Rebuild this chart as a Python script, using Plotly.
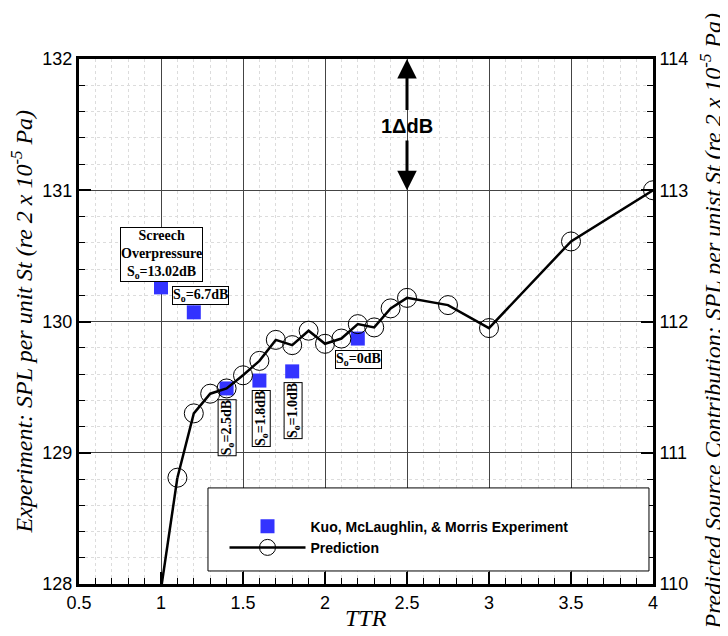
import plotly.graph_objects as go

# ---------------- data ----------------
exp_ttr = [1.0, 1.2, 1.4, 1.6, 1.8, 2.2]
exp_spl = [130.26, 130.07, 129.49, 129.55, 129.62, 129.87]

# prediction (right axis units)
pred_ttr = [1.0, 1.1, 1.2, 1.3, 1.4, 1.5, 1.6, 1.7, 1.8, 1.9, 2.0, 2.1, 2.2, 2.3, 2.4, 2.5, 2.75, 3.0, 3.5, 4.0]
pred_spl = [109.96, 110.81, 111.30, 111.45, 111.49, 111.59, 111.70, 111.86, 111.82, 111.93,
            111.83, 111.87, 111.98, 111.955, 112.10, 112.18, 112.125, 111.95, 112.61, 113.0]

label_texts = ["Screech<br>Overpressure<br>S<sub>o</sub>=13.02dB", "S<sub>o</sub>=6.7dB",
               "S<sub>o</sub>=2.5dB", "S<sub>o</sub>=1.8dB", "S<sub>o</sub>=1.0dB", "S<sub>o</sub>=0dB"]
label_x = [1.0, 1.243, 1.405, 1.612, 1.807, 2.204]
label_y = [130.51, 130.20, 129.19, 129.26, 129.32, 129.71]
label_angle = [0, 0, -90, -90, -90, 0]

x_ticks = [0.5, 1, 1.5, 2, 2.5, 3, 3.5, 4]
y_left_ticks = [128, 129, 130, 131, 132]
y_right_ticks = [110, 111, 112, 113, 114]

x_title = "<i>TTR</i>"
y_left_title = "<i>Experiment: SPL per unit St (re 2 x 10<sup>-5</sup> Pa)</i>"
y_right_title = "<i>Predicted Source Contribution: SPL per unist St (re 2 x 10<sup>-5</sup> Pa)</i>"

SERIF = "Liberation Serif, Times New Roman, serif"
SANS = "Liberation Sans, Arial, sans-serif"

fig = go.Figure()

fig.add_trace(go.Scatter(
    x=exp_ttr, y=exp_spl, mode="markers", yaxis="y",
    marker=dict(symbol="square", size=14, color="#3333ff"),
    name="Kuo, McLaughlin, & Morris Experiment"))

# first segment (point at TTR=1.0 lies below the axis, no visible symbol)
fig.add_trace(go.Scatter(
    x=pred_ttr[0:2], y=pred_spl[0:2], mode="lines", yaxis="y2",
    line=dict(color="black", width=2.5), showlegend=False, hoverinfo="skip"))

fig.add_trace(go.Scatter(
    x=pred_ttr[1:], y=pred_spl[1:], mode="lines+markers", yaxis="y2",
    line=dict(color="black", width=2.5),
    marker=dict(symbol="circle-open", size=19, color="black", line=dict(width=1, color="black")),
    name="Prediction"))

annotations = []
for t, xx, yy, ang in zip(label_texts, label_x, label_y, label_angle):
    annotations.append(dict(
        x=xx, y=yy, xref="x", yref="y", text=t, showarrow=False, textangle=ang,
        font=dict(family=SERIF, size=14, color="black", weight="bold"),
        bgcolor="white", bordercolor="black", borderwidth=1, borderpad=0))

# 1 dB scale indicator
annotations.append(dict(x=2.5, y=131.49, xref="x", yref="y", text="<b>1ΔdB</b>", showarrow=False,
                        font=dict(family=SANS, size=20, color="black")))
annotations.append(dict(x=2.5, y=132.0, xref="x", yref="y", ax=2.5, ay=131.6, axref="x", ayref="y",
                        text="", showarrow=True, arrowhead=2, arrowsize=1.3, arrowwidth=3,
                        arrowcolor="black"))
annotations.append(dict(x=2.5, y=131.0, xref="x", yref="y", ax=2.5, ay=131.39, axref="x", ayref="y",
                        text="", showarrow=True, arrowhead=2, arrowsize=1.3, arrowwidth=3,
                        arrowcolor="black"))

# axis titles
annotations.append(dict(x=0.5, y=0, xref="paper", yref="paper", xanchor="center", yanchor="middle",
                        yshift=-34, text=x_title, showarrow=False,
                        font=dict(family=SERIF, size=24, color="black")))
annotations.append(dict(x=0, y=0.5, xref="paper", yref="paper", xanchor="center", yanchor="middle",
                        xshift=-58, textangle=-90, text=y_left_title, showarrow=False,
                        font=dict(family=SERIF, size=24, color="black")))
annotations.append(dict(x=1, y=0.5, xref="paper", yref="paper", xanchor="center", yanchor="middle",
                        xshift=57, textangle=-90, text=y_right_title, showarrow=False,
                        font=dict(family=SERIF, size=24, color="black")))

shapes = [dict(type="rect", xref="paper", yref="paper", x0=0.2247, x1=0.993, y0=0.0248, y1=0.183,
               line=dict(color="black", width=1), fillcolor="white", layer="above")]

axis_common = dict(showline=True, linecolor="black", linewidth=3, ticks="inside",
                   ticklen=12, tickwidth=2, tickcolor="black", zeroline=False, automargin=False,
                   tickfont=dict(family=SANS, size=18, color="black"))

# page body has an 8px default margin; margins compensate so the plot area sits at x 79-653, y 59-584
fig.update_layout(
    width=728, height=636,
    margin=dict(l=71, r=83, t=51, b=60),
    paper_bgcolor="white", plot_bgcolor="white",
    shapes=shapes, annotations=annotations,
    legend=dict(x=0.2535, y=0.1398, xanchor="left", yanchor="top", bgcolor="rgba(0,0,0,0)",
                borderwidth=0, itemwidth=76, tracegroupgap=0,
                font=dict(family=SANS, size=14, color="black", weight="bold")),
    xaxis=dict(range=[0.5, 4], tickvals=x_ticks, ticktext=[str(v) for v in x_ticks], mirror=True,
               showgrid=True, gridcolor="#444", gridwidth=1,
               minor=dict(ticks="inside", ticklen=6, tickwidth=1, tickcolor="black", dtick=0.1,
                          showgrid=True, gridcolor="#dcdcdc", griddash="dot", gridwidth=1),
               **axis_common),
    yaxis=dict(range=[128, 132], tickvals=y_left_ticks, mirror=True,
               showgrid=True, gridcolor="#444", gridwidth=1,
               minor=dict(ticks="inside", ticklen=6, tickwidth=1, tickcolor="black", dtick=0.2,
                          showgrid=True, gridcolor="#dcdcdc", griddash="dot", gridwidth=1),
               **axis_common),
    yaxis2=dict(range=[110, 114], tickvals=y_right_ticks, overlaying="y", side="right",
                showgrid=False,
                minor=dict(ticks="inside", ticklen=6, tickwidth=1, tickcolor="black", dtick=0.2),
                **axis_common),
)

fig.write_html("out.html")
